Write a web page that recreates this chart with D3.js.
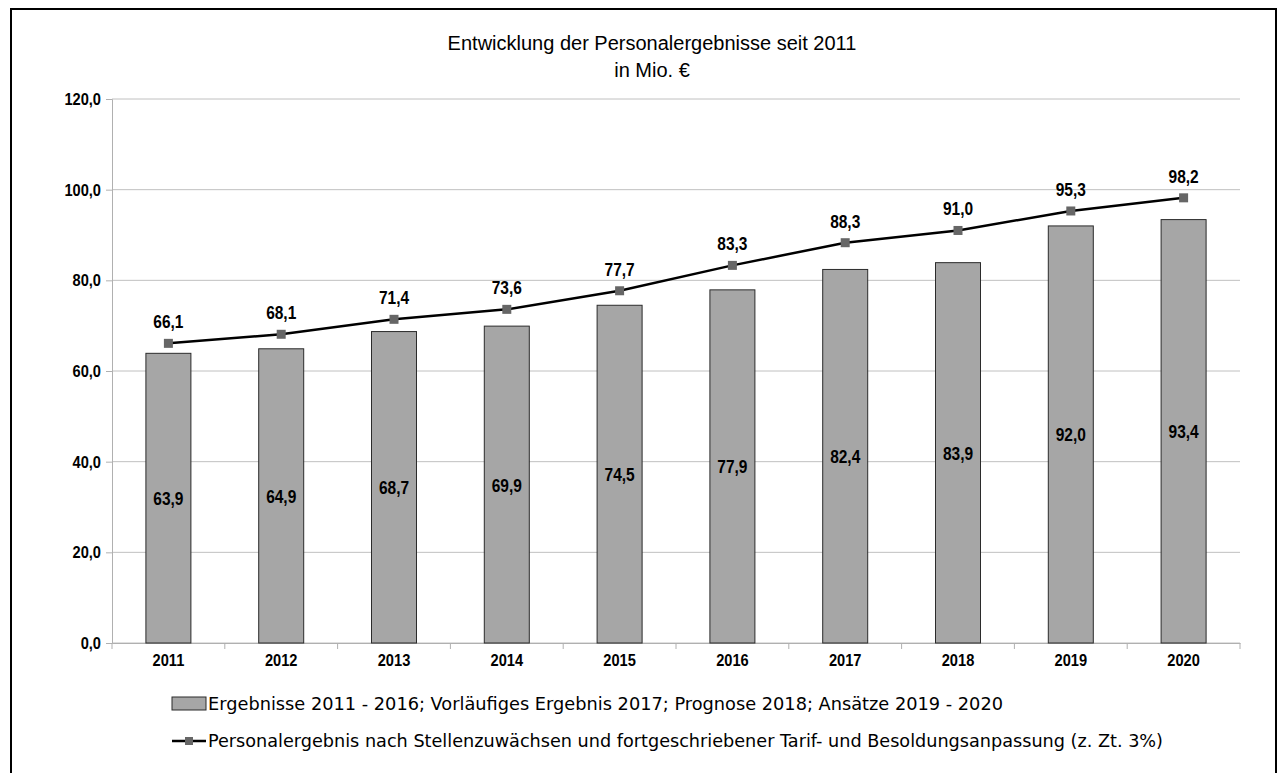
<!DOCTYPE html>
<html><head><meta charset="utf-8">
<script src="https://cdn.jsdelivr.net/npm/d3@7"></script>
<style>body{margin:0;background:#fff}svg{display:block}</style>
</head><body>
<svg id="c" width="1281" height="773"></svg>
<script>
const years = ["2011","2012","2013","2014","2015","2016","2017","2018","2019","2020"];
const barValues = [63.9,64.9,68.7,69.9,74.5,77.9,82.4,83.9,92.0,93.4];
const lineValues = [66.1,68.1,71.4,73.6,77.7,83.3,88.3,91.0,95.3,98.2];
const yTicks = [0,20,40,60,80,100,120];
const titleLines = ["Entwicklung der Personalergebnisse seit 2011","in Mio. €"];
const legendLabels = ["Ergebnisse 2011 - 2016; Vorläufiges Ergebnis 2017; Prognose 2018; Ansätze 2019 - 2020",
  "Personalergebnis nach Stellenzuwächsen und fortgeschriebener Tarif- und Besoldungsanpassung (z. Zt. 3%)"];

const fmt = v => v.toFixed(1).replace(".", ",");
const FONT = "Liberation Sans, Arial, sans-serif";
const svg = d3.select("#c");
const L = 112, R = 1240, T = 99, B = 643;
const xb = d3.scaleBand().domain(years).range([L, R]);
const y = d3.scaleLinear().domain([0,120]).range([B, T]);

function squeeze(sel, f) {
  sel.each(function(){ const w = this.getComputedTextLength();
    d3.select(this).attr("textLength", w*f).attr("lengthAdjust","spacingAndGlyphs"); });
}

// outer border
svg.append("rect").attr("x",11).attr("y",9).attr("width",1265).attr("height",790)
  .attr("fill","none").attr("stroke","#000").attr("stroke-width",2);

// title
const tt = svg.append("g").selectAll("text").data(titleLines).join("text")
  .attr("x",652).attr("y",(d,i)=>50+i*27).attr("text-anchor","middle")
  .attr("font-family",FONT).attr("font-size",20).attr("fill","#000")
  .text(d=>d);

// gridlines
svg.append("g").selectAll("line").data(yTicks).join("line")
  .attr("x1",L).attr("x2",R).attr("y1",d=>y(d)).attr("y2",d=>y(d))
  .attr("stroke","#c0c0c0").attr("stroke-width",1);

// y axis
const yAxis = svg.append("g").attr("transform",`translate(${L},0)`)
  .call(d3.axisLeft(y).tickValues(yTicks).tickFormat(fmt).tickSize(6).tickPadding(5));
yAxis.select(".domain").attr("stroke","#b0b0b0");
yAxis.selectAll(".tick line").attr("stroke","#b0b0b0");
yAxis.selectAll("text").attr("font-family",FONT)
  .attr("font-size",17).attr("font-weight","bold").attr("fill","#000");
squeeze(yAxis.selectAll("text"), 0.86);

// x axis
const xAxis = svg.append("g").attr("transform",`translate(0,${B})`)
  .call(d3.axisBottom(xb).tickSize(0).tickPadding(11));
xAxis.select(".domain").attr("stroke","#b0b0b0");
xAxis.selectAll("text").attr("font-family",FONT)
  .attr("font-size",17).attr("font-weight","bold").attr("fill","#000");
squeeze(xAxis.selectAll("text"), 0.86);
svg.append("g").selectAll("line").data(years.concat(["end"])).join("line")
  .attr("x1",(d,i)=>L+i*xb.step()).attr("x2",(d,i)=>L+i*xb.step())
  .attr("y1",B).attr("y2",B+6).attr("stroke","#b0b0b0");

// bars
svg.append("g").selectAll("rect").data(barValues).join("rect")
  .attr("x",(d,i)=>xb(years[i])+xb.bandwidth()/2-22.5).attr("width",45)
  .attr("y",d=>y(d)).attr("height",d=>B-y(d))
  .attr("fill","#a6a6a6").attr("stroke","#2b2b2b").attr("stroke-width",1);

// bar labels
const bl = svg.append("g").selectAll("text").data(barValues).join("text")
  .attr("x",(d,i)=>xb(years[i])+xb.bandwidth()/2).attr("y",d=>(y(d)+B)/2+7)
  .attr("text-anchor","middle").attr("font-family",FONT)
  .attr("font-size",18).attr("font-weight","bold").attr("fill","#000").text(fmt);
squeeze(bl, 0.86);

// line
const cx = i => xb(years[i])+xb.bandwidth()/2;
svg.append("path").datum(lineValues)
  .attr("d", d3.line().x((d,i)=>cx(i)).y(d=>y(d)))
  .attr("fill","none").attr("stroke","#000").attr("stroke-width",2.5);
svg.append("g").selectAll("rect").data(lineValues).join("rect")
  .attr("x",(d,i)=>cx(i)-4.5).attr("y",d=>y(d)-4.5).attr("width",9).attr("height",9)
  .attr("fill","#666");
const ll = svg.append("g").selectAll("text").data(lineValues).join("text")
  .attr("x",(d,i)=>cx(i)).attr("y",d=>y(d)-15)
  .attr("text-anchor","middle").attr("font-family",FONT)
  .attr("font-size",18).attr("font-weight","bold").attr("fill","#000").text(fmt);
squeeze(ll, 0.86);

// legend
const lg = svg.append("g");
lg.append("rect").attr("x",172).attr("y",697).attr("width",34).attr("height",13)
  .attr("fill","#a6a6a6").attr("stroke","#2b2b2b");
lg.append("line").attr("x1",172).attr("x2",206).attr("y1",741).attr("y2",741)
  .attr("stroke","#000").attr("stroke-width",2.5);
lg.append("rect").attr("x",185).attr("y",737).attr("width",8).attr("height",8).attr("fill","#666");
lg.selectAll("text").data(legendLabels).join("text")
  .attr("x",208).attr("y",(d,i)=>710+i*37)
  .attr("font-family","DejaVu Sans, Verdana, sans-serif").attr("font-size",17).attr("fill","#000")
  .attr("textLength",(d,i)=>i===0?795:955).attr("lengthAdjust","spacingAndGlyphs")
  .text(d=>d);
</script>
</body></html>
